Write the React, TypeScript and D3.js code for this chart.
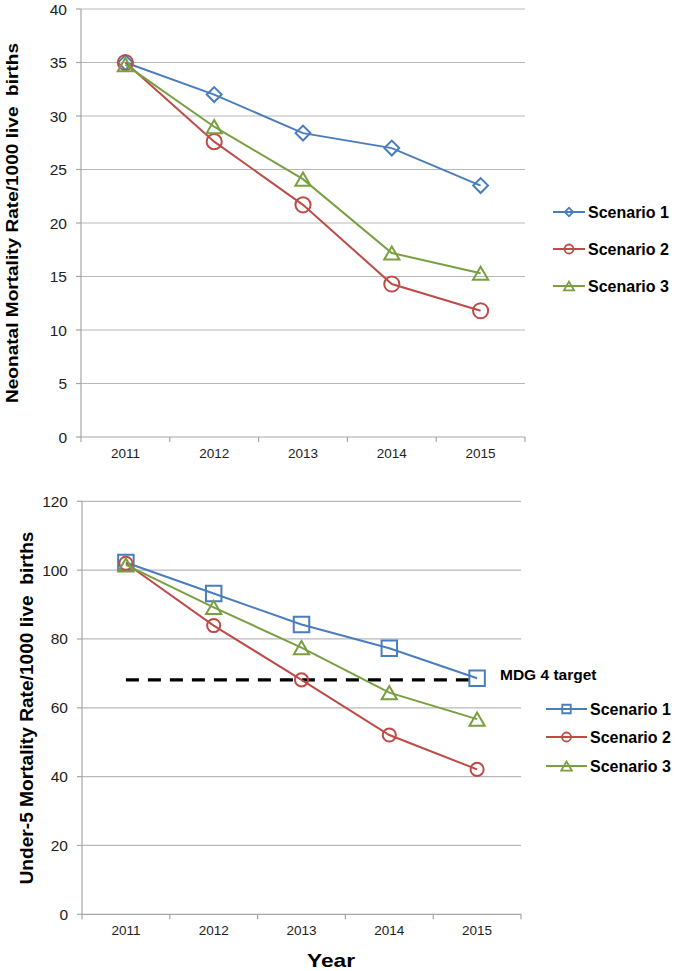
import React, { useEffect, useRef } from 'react'
import * as d3 from 'd3'

const years = ['2011', '2012', '2013', '2014', '2015']
const scenarioNames = ['Scenario 1', 'Scenario 2', 'Scenario 3']

// neonatal mortality, per 1000 live births
const neoScenario1 = [35, 32, 28.4, 27, 23.5]
const neoScenario2 = [35, 27.6, 21.7, 14.3, 11.8]
const neoScenario3 = [34.8, 29, 24.1, 17.2, 15.3]
const neoTicks = [0, 5, 10, 15, 20, 25, 30, 35, 40]

// under-5 mortality, per 1000 live births
const u5Scenario1 = [102.2, 93.2, 84.2, 77.3, 68.6]
const u5Scenario2 = [102, 83.9, 68.1, 52.1, 42.1]
const u5Scenario3 = [101.5, 89.2, 77.5, 64.4, 56.7]
const u5Ticks = [0, 20, 40, 60, 80, 100, 120]
const mdg4Target = 68.1

const colors = ['#4a7ebb', '#be4b48', '#78a040']
const font = 'Liberation Sans, Arial, Helvetica, sans-serif'

function markerPath (kind, size) {
  if (kind === 'diamond' || kind === 'square') return d3.symbol().type(d3.symbolSquare).size(size)()
  if (kind === 'circle') return d3.symbol().type(d3.symbolCircle).size(size)()
  return d3.symbol().type(d3.symbolTriangle).size(size)()
}

// excel centres the triangle's box, d3 its centroid
function markerShift (kind, size) {
  if (kind === 'diamond') return ' rotate(45)'
  if (kind === 'triangle') return ' translate(0,' + (Math.sqrt(size / (Math.sqrt(3) * 3)) / 2) + ')'
  return ''
}

function drawPanel (svg, cfg) {
  const x = d3.scaleBand().domain(years).range([cfg.left, cfg.right])
  const cx = d => x(d) + x.bandwidth() / 2
  const y = d3.scaleLinear().domain([0, cfg.max]).range([cfg.bottom, cfg.top])
  const g = svg.append('g')

  // grid
  g.selectAll('.grid').data(cfg.ticks.filter(t => t > 0)).enter().append('line')
    .attr('x1', cfg.left).attr('x2', cfg.right)
    .attr('y1', d => y(d)).attr('y2', d => y(d))
    .attr('stroke', '#b9b9b9').attr('stroke-width', 1.2)

  // axes
  g.append('line').attr('x1', cfg.left).attr('x2', cfg.left).attr('y1', cfg.top).attr('y2', cfg.bottom)
    .attr('stroke', '#a6a6a6').attr('stroke-width', 1.2)
  g.append('line').attr('x1', cfg.left).attr('x2', cfg.right).attr('y1', cfg.bottom).attr('y2', cfg.bottom)
    .attr('stroke', '#a6a6a6').attr('stroke-width', 1.2)
  g.selectAll('.yt').data(cfg.ticks).enter().append('line')
    .attr('x1', cfg.left - 5).attr('x2', cfg.left)
    .attr('y1', d => y(d)).attr('y2', d => y(d))
    .attr('stroke', '#a6a6a6').attr('stroke-width', 1.2)
  const edges = years.map(d => x(d)).concat([cfg.right])
  g.selectAll('.xt').data(edges).enter().append('line')
    .attr('x1', d => d).attr('x2', d => d)
    .attr('y1', cfg.bottom).attr('y2', cfg.bottom + 5)
    .attr('stroke', '#a6a6a6').attr('stroke-width', 1.2)

  g.selectAll('.yl').data(cfg.ticks).enter().append('text')
    .attr('x', cfg.left - 14).attr('y', d => y(d))
    .attr('text-anchor', 'end').attr('dominant-baseline', 'central')
    .attr('font-family', font).attr('font-size', 15.5).attr('fill', '#222')
    .text(d => d)
  g.selectAll('.xl').data(years).enter().append('text')
    .attr('x', d => cx(d)).attr('y', cfg.bottom + 16)
    .attr('text-anchor', 'middle').attr('dominant-baseline', 'central')
    .attr('font-family', font).attr('font-size', 13.5).attr('fill', '#222')
    .text(d => d)

  // y title
  g.append('text')
    .attr('transform', 'translate(' + cfg.titleX + ',' + cfg.titleY + ') rotate(-90)')
    .attr('text-anchor', 'middle').attr('dominant-baseline', 'central')
    .attr('font-family', font).attr('font-size', cfg.titleSize).attr('font-weight', 'bold')
    .attr('textLength', cfg.titleLen).attr('lengthAdjust', 'spacingAndGlyphs')
    .style('white-space', 'pre')
    .text(cfg.title)

  // target line
  if (cfg.target != null) {
    g.append('line')
      .attr('x1', cx(years[0])).attr('x2', cx(years[years.length - 1]) - 4)
      .attr('y1', y(cfg.target)).attr('y2', y(cfg.target))
      .attr('stroke', '#000').attr('stroke-width', 3.2).attr('stroke-dasharray', '13,9')
    g.append('text')
      .attr('x', cfg.right - 21).attr('y', y(cfg.target) - 5)
      .attr('dominant-baseline', 'central')
      .attr('font-family', font).attr('font-size', 15.5).attr('font-weight', 'bold')
      .text('MDG 4 target')
  }

  const line = d3.line().x((d, i) => cx(years[i])).y(d => y(d))
  cfg.series.forEach((vals, k) => {
    g.append('path').attr('d', line(vals)).attr('fill', 'none')
      .attr('stroke', colors[k]).attr('stroke-width', 2)
    g.selectAll('.m' + k).data(vals).enter().append('path')
      .attr('d', markerPath(cfg.markers[k], cfg.markerSize[k]))
      .attr('transform', (d, i) => 'translate(' + cx(years[i]) + ',' + y(d) + ')' + markerShift(cfg.markers[k], cfg.markerSize[k]))
      .attr('fill', 'none').attr('stroke', colors[k]).attr('stroke-width', 2)
  })

  // legend
  scenarioNames.forEach((name, k) => {
    const ly = cfg.legendY[k]
    g.append('line').attr('x1', cfg.legendX[0]).attr('x2', cfg.legendX[1])
      .attr('y1', ly).attr('y2', ly).attr('stroke', colors[k]).attr('stroke-width', 2)
    const mx = (cfg.legendX[0] + cfg.legendX[1]) / 2
    g.append('path')
      .attr('d', markerPath(cfg.markers[k], cfg.legendMarker[k]))
      .attr('transform', 'translate(' + mx + ',' + ly + ')' + markerShift(cfg.markers[k], cfg.legendMarker[k]))
      .attr('fill', 'none').attr('stroke', colors[k]).attr('stroke-width', 1.8)
    g.append('text').attr('x', cfg.legendX[1] + 3).attr('y', ly)
      .attr('dominant-baseline', 'central')
      .attr('font-family', font).attr('font-size', 16).attr('font-weight', 'bold')
      .text(name)
  })
}

export default function App () {
  const ref = useRef(null)

  useEffect(() => {
    const svg = d3.select(ref.current)
    svg.selectAll('*').remove()

    drawPanel(svg, {
      left: 81, right: 525, top: 9, bottom: 437, max: 40, ticks: neoTicks,
      series: [neoScenario1, neoScenario2, neoScenario3],
      markers: ['diamond', 'circle', 'triangle'],
      markerSize: [110, 180, 100],
      legendMarker: [36, 64, 44],
      legendX: [553, 585], legendY: [212, 249, 286],
      title: 'Neonatal Mortality Rate/1000 live  births',
      titleX: 12, titleY: 223, titleSize: 17, titleLen: 360
    })

    drawPanel(svg, {
      left: 82, right: 521, top: 501.3, bottom: 914.3, max: 120, ticks: u5Ticks,
      series: [u5Scenario1, u5Scenario2, u5Scenario3],
      markers: ['square', 'circle', 'triangle'],
      markerSize: [240, 135, 100],
      legendMarker: [72, 64, 48],
      legendX: [546, 587], legendY: [709, 737, 766],
      title: 'Under-5 Mortality Rate/1000 live  births',
      titleX: 27, titleY: 708, titleSize: 17.5, titleLen: 353,
      target: mdg4Target
    })

    svg.append('text').attr('x', 331).attr('y', 960)
      .attr('text-anchor', 'middle').attr('dominant-baseline', 'central')
      .attr('font-family', font).attr('font-size', 19).attr('font-weight', 'bold')
      .attr('textLength', 48).attr('lengthAdjust', 'spacingAndGlyphs')
      .text('Year')
  }, [])

  return (
    <svg ref={ref} width={675} height={971}
      style={{ position: 'absolute', left: 0, top: 0, background: '#fff' }} />
  )
}
